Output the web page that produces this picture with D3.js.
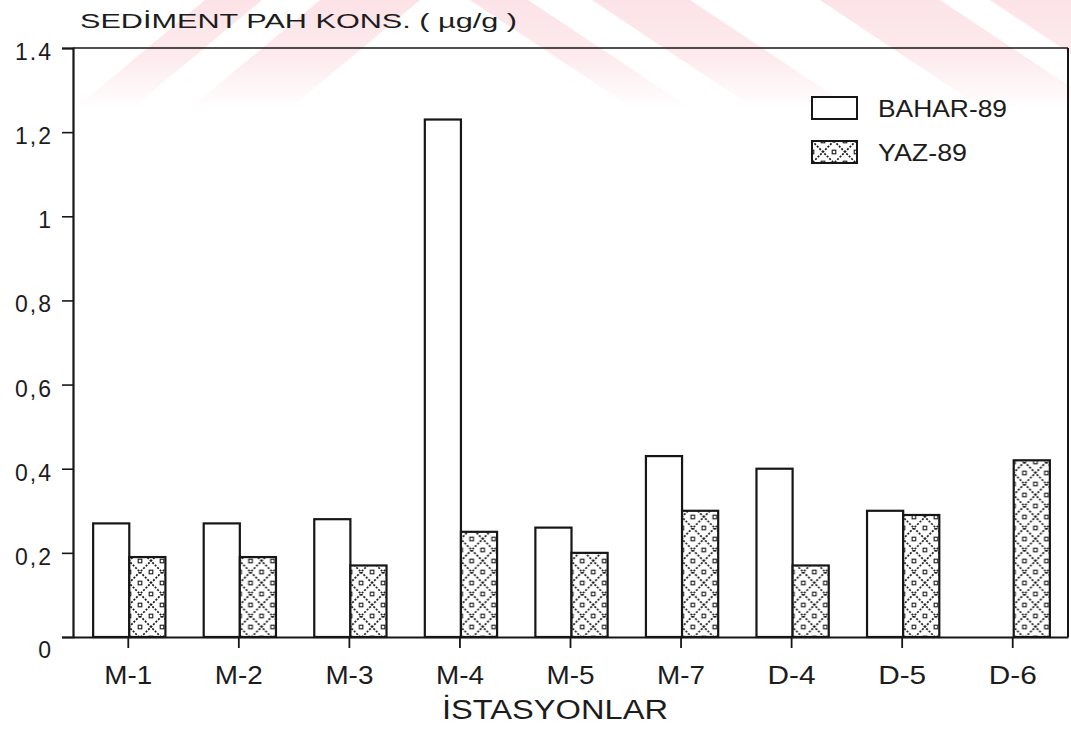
<!DOCTYPE html>
<html>
<head>
<meta charset="utf-8">
<script src="https://cdn.jsdelivr.net/npm/d3@7"></script>
<style>
  body { margin: 0; background: #fff; }
  svg { display: block; }
  text { font-family: "Liberation Sans", "DejaVu Sans", sans-serif; fill: #1c1c1c; }
</style>
</head>
<body>
<svg id="chart" width="1071" height="740"></svg>
<script>
// Sediment PAH concentrations per station, spring and summer campaigns
const stations = ["M-1", "M-2", "M-3", "M-4", "M-5", "M-7", "D-4", "D-5", "D-6"];
const bahar89 = [0.27, 0.27, 0.28, 1.23, 0.26, 0.43, 0.40, 0.30, null];
const yaz89 = [0.19, 0.19, 0.17, 0.25, 0.20, 0.30, 0.17, 0.29, 0.42];
const seriesNames = ["BAHAR-89", "YAZ-89"];
const yTicks = [0, 0.2, 0.4, 0.6, 0.8, 1, 1.2, 1.4];
const yTickLabels = ["0", "0,2", "0,4", "0,6", "0,8", "1", "1,2", "1.4"];
const titleText = "SEDİMENT PAH KONS. ( µg/g )";
const xTitleText = "İSTASYONLAR";

const svg = d3.select("#chart");
const W = 1071, H = 740;
const plot = { left: 73, right: 1068, top: 48, bottom: 637 };
const ink = "#161616";

// ---------- faint striped background emblem ----------
const defs = svg.append("defs");
const fade = defs.append("linearGradient")
  .attr("id", "fade").attr("gradientUnits", "userSpaceOnUse")
  .attr("x1", 0).attr("y1", 0).attr("x2", 0).attr("y2", 110);
fade.append("stop").attr("offset", 0).attr("stop-color", "#fff").attr("stop-opacity", 1);
fade.append("stop").attr("offset", 0.5).attr("stop-color", "#fff").attr("stop-opacity", 0.75);
fade.append("stop").attr("offset", 1).attr("stop-color", "#fff").attr("stop-opacity", 0);
const mask = defs.append("mask").attr("id", "fadeMask").attr("maskUnits", "userSpaceOnUse")
  .attr("x", 0).attr("y", 0).attr("width", W).attr("height", 120);
mask.append("rect").attr("width", W).attr("height", 120).attr("fill", "url(#fade)");

const bandDepth = 120;
const emblemBands = [
  { a: 205, b: 262, s: -1.2 },
  { a: 320, b: 420, s: -1.2 },
  { a: 470, b: 528, s: 1.5 },
  { a: 592, b: 690, s: 1.5 },
  { a: 820, b: 940, s: 1.5 },
  { a: 990, b: 1110, s: 1.5 }
];
svg.append("g").attr("mask", "url(#fadeMask)")
  .selectAll("polygon").data(emblemBands).join("polygon")
  .attr("points", d => [[d.a, 0], [d.b, 0], [d.b + d.s * bandDepth, bandDepth], [d.a + d.s * bandDepth, bandDepth]].join(" "))
  .attr("fill", "#fce3e7");

// ---------- diamond cross-hatch for the summer series ----------
const cell = 22;
const pat = defs.append("pattern")
  .attr("id", "xhatch").attr("patternUnits", "userSpaceOnUse")
  .attr("width", cell).attr("height", cell);
pat.append("rect").attr("width", cell).attr("height", cell).attr("fill", "#fff");
pat.append("path").attr("d", `M0,0L${cell},${cell}M${cell},0L0,${cell}`)
  .attr("stroke", "#1a1a1a").attr("stroke-width", 1.7).attr("stroke-dasharray", "2 1.5").attr("fill", "none");
[[cell / 2, 0], [0, cell / 2], [cell, cell / 2], [cell / 2, cell]].forEach(([cx, cy]) => {
  pat.append("rect").attr("x", cx - 1.8).attr("y", cy - 1.8).attr("width", 3.6).attr("height", 3.6)
    .attr("fill", "#fff").attr("stroke", "#1a1a1a").attr("stroke-width", 1.1);
});

// ---------- scales ----------
const y = d3.scaleLinear().domain([0, 1.4]).range([plot.bottom, plot.top]);
const x0 = d3.scaleBand().domain(stations).range([plot.left, plot.right]).padding(0);
const x1 = d3.scaleBand().domain(seriesNames).range([0, x0.bandwidth()]).paddingInner(0).paddingOuter(0.53);

// ---------- bars ----------
const rows = stations.map((s, i) => ({ station: s, values: [bahar89[i], yaz89[i]] }));
const groups = svg.append("g").selectAll("g").data(rows).join("g")
  .attr("transform", d => `translate(${x0(d.station) + 1},0)`);
groups.selectAll("rect")
  .data(d => d.values.map((v, k) => ({ series: seriesNames[k], k, v })).filter(e => e.v != null))
  .join("rect")
  .attr("x", e => x1(e.series))
  .attr("y", e => y(e.v))
  .attr("width", x1.bandwidth())
  .attr("height", e => y(0) - y(e.v))
  .attr("fill", e => e.k === 0 ? "#fff" : "url(#xhatch)")
  .attr("stroke", ink).attr("stroke-width", 2.2);

// ---------- frame and axes ----------
const frame = svg.append("g").attr("fill", "none").attr("stroke", ink);
frame.append("line").attr("x1", plot.left).attr("x2", plot.right).attr("y1", plot.top).attr("y2", plot.top).attr("stroke-width", 1.6);
frame.append("line").attr("x1", plot.right).attr("x2", plot.right).attr("y1", plot.top).attr("y2", plot.bottom).attr("stroke-width", 2);

const yAxis = d3.axisLeft(y).tickValues(yTicks).tickSize(11).tickPadding(9)
  .tickFormat((d, i) => yTickLabels[i]);
const gy = svg.append("g").attr("transform", `translate(${plot.left},0)`).call(yAxis);
gy.select(".domain").attr("stroke", ink).attr("stroke-width", 2.2);
gy.selectAll(".tick line").attr("stroke", ink).attr("stroke-width", 1.6);
gy.selectAll(".tick text")
  .attr("font-size", 23).attr("letter-spacing", 2)
  .attr("dy", d => d === 0 ? "0.9em" : "0.5em")
  .style("font-family", "'Liberation Sans', sans-serif").attr("fill", "#1c1c1c");

const xAxis = d3.axisBottom(x0).tickSize(11).tickSizeOuter(0).tickPadding(18);
const gx = svg.append("g").attr("transform", `translate(0,${plot.bottom})`).call(xAxis);
gx.select(".domain").attr("stroke", ink).attr("stroke-width", 2.2);
gx.selectAll(".tick line").attr("stroke", ink).attr("stroke-width", 1.8);
gx.selectAll(".tick text")
  .attr("font-size", 25)
  .style("font-family", "'Liberation Sans', sans-serif").attr("fill", "#1c1c1c")
  .attr("textLength", 48).attr("lengthAdjust", "spacingAndGlyphs");

// ---------- titles ----------
svg.append("text").attr("x", 80).attr("y", 28)
  .attr("font-size", 20).attr("textLength", 437).attr("lengthAdjust", "spacingAndGlyphs")
  .text(titleText);
svg.append("text").attr("x", 555).attr("y", 719).attr("text-anchor", "middle")
  .attr("font-size", 27).attr("textLength", 226).attr("lengthAdjust", "spacingAndGlyphs")
  .text(xTitleText);

// ---------- legend ----------
const legend = svg.append("g").attr("transform", "translate(812,97)");
const legItems = legend.selectAll("g").data(seriesNames).join("g")
  .attr("transform", (d, i) => `translate(0,${i * 44})`);
legItems.append("rect").attr("width", 45).attr("height", 22)
  .attr("fill", (d, i) => i === 0 ? "#fff" : "url(#xhatch)")
  .attr("stroke", ink).attr("stroke-width", 2);
legItems.append("text").attr("x", 66).attr("y", 20)
  .attr("font-size", 24)
  .attr("textLength", (d, i) => i === 0 ? 129 : 89).attr("lengthAdjust", "spacingAndGlyphs")
  .text(d => d);
</script>
</body>
</html>
